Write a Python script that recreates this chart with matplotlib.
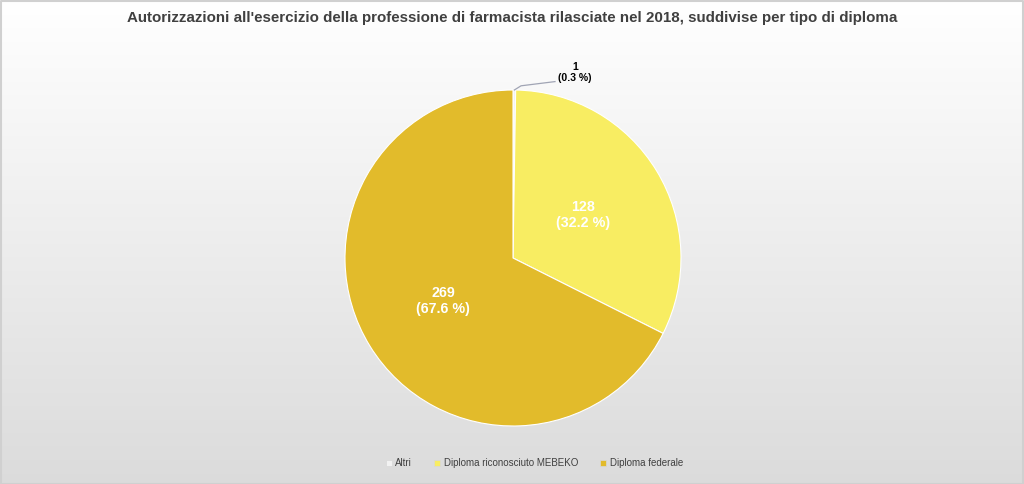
import matplotlib
matplotlib.use("Agg")
import matplotlib.pyplot as plt
import numpy as np
from matplotlib.lines import Line2D

plt.rcParams['font.family'] = ['Liberation Sans', 'DejaVu Sans']

categories = ["Altri", "Diploma riconosciuto MEBEKO", "Diploma federale"]
values = [1, 128, 269]
colors = ["#f2f2f2", "#f8ed62", "#e2bb2b"]
title = "Autorizzazioni all'esercizio della professione di farmacista rilasciate nel 2018, suddivise per tipo di diploma"

W, H = 1024, 484
fig = plt.figure(figsize=(W / 100, H / 100), dpi=100)

# background gradient
bg = fig.add_axes([0, 0, 1, 1], zorder=-10)
grad = np.linspace(1.0, 0.86, 256).reshape(-1, 1)
bg.imshow(np.dstack([grad, grad, grad]), aspect="auto", extent=[0, 1, 0, 1], origin="upper")
bg.plot([0.001, 0.999, 0.999, 0.001, 0.001], [0.001, 0.001, 0.998, 0.998, 0.001],
        color="#d0d0d0", lw=1.5, transform=bg.transAxes)
bg.set_xlim(0, 1); bg.set_ylim(0, 1)
bg.axis("off")

cx, cy, r = 513, 258, 168
ax = fig.add_axes([(cx - r) / W, (H - cy - r) / H, 2 * r / W, 2 * r / H])
total = sum(values)
wedges, _ = ax.pie(values, colors=colors, startangle=90, counterclock=False,
                   radius=1.0, wedgeprops=dict(edgecolor="white", linewidth=0.8))
ax.set_xlim(-1, 1); ax.set_ylim(-1, 1)
ax.set_aspect("equal")
ax.axis("off")

for i, (w, v) in enumerate(zip(wedges, values)):
    pct = v / total * 100
    txt = f"{v}\n({pct:.1f} %)"
    ang = np.deg2rad((w.theta1 + w.theta2) / 2)
    if pct < 5:
        x0, y0 = np.cos(ang) * 1.0, np.sin(ang) * 1.0
        ax.plot([x0, x0 + 0.04, 0.25], [y0, y0 + 0.025, 1.05], color="#a0a4b4",
                lw=0.9, clip_on=False)
        ax.text(0.37, 1.105, txt, ha="center", va="center", fontsize=7.6,
                fontweight="bold", color="black", linespacing=1.1)
    else:
        d = 0.49
        ax.text(np.cos(ang) * d, np.sin(ang) * d, txt, ha="center", va="center",
                fontsize=10.3, fontweight="bold", color="white", linespacing=1.2)

fig.text(0.5, 0.962, title, ha="center", va="center", fontsize=10.9,
         fontweight="bold", color="#404040")

handles = [Line2D([], [], marker="s", linestyle="none", markersize=3.8,
                  markerfacecolor=c, markeredgecolor="#d8d8d8", markeredgewidth=0.5)
           for c in colors]
fig.legend(handles, categories, loc="center", bbox_to_anchor=(0.522, 0.043), ncol=3,
           frameon=False, fontsize=7, handlelength=0.6, handletextpad=0.35,
           columnspacing=2.3, labelcolor="#404040")

fig.savefig("out.png", dpi=100)
